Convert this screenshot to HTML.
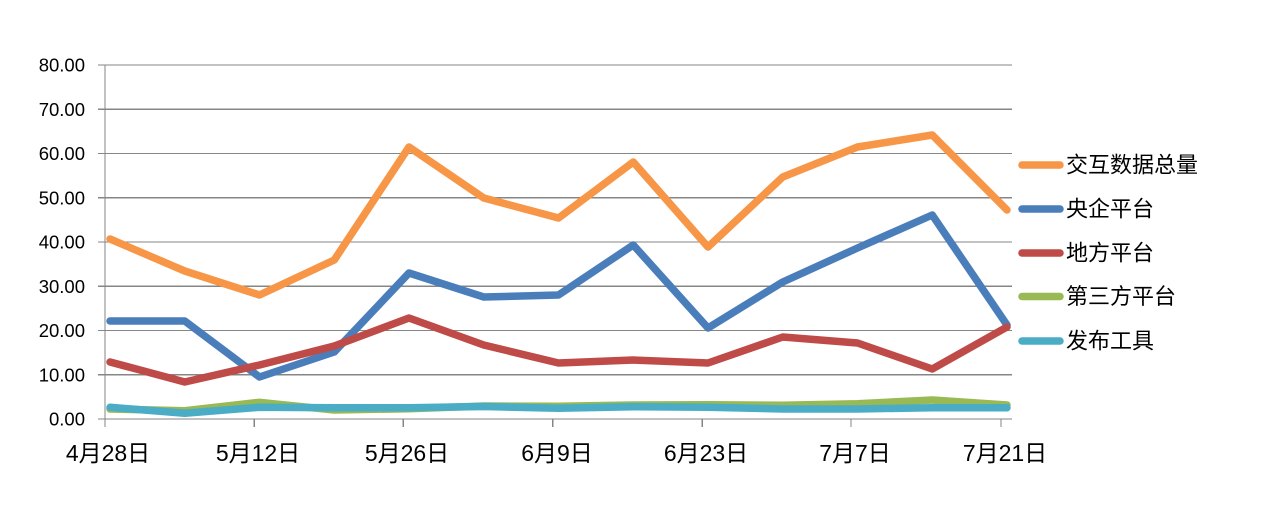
<!DOCTYPE html>
<html>
<head>
<meta charset="utf-8">
<style>
  html, body { margin:0; padding:0; background:#ffffff; }
  svg { display:block; }
  text { font-family: "Liberation Sans", "Noto Sans CJK SC", sans-serif; fill:#000; }
</style>
</head>
<body>
<svg width="1279" height="530" viewBox="0 0 1279 530" xmlns="http://www.w3.org/2000/svg">
  <rect width="1279" height="530" fill="#fff"/>
  <!-- gridlines -->
  <g stroke="#868686" stroke-width="1.2" shape-rendering="crispEdges">
    <line x1="98" y1="65" x2="1012" y2="65"/>
    <line x1="98" y1="109.25" x2="1012" y2="109.25"/>
    <line x1="98" y1="153.5" x2="1012" y2="153.5"/>
    <line x1="98" y1="197.75" x2="1012" y2="197.75"/>
    <line x1="98" y1="242" x2="1012" y2="242"/>
    <line x1="98" y1="286.25" x2="1012" y2="286.25"/>
    <line x1="98" y1="330.5" x2="1012" y2="330.5"/>
    <line x1="98" y1="374.75" x2="1012" y2="374.75"/>
    <line x1="98" y1="419" x2="1012" y2="419"/>
    <!-- y axis -->
    <line x1="105" y1="65" x2="105" y2="427"/>
    <!-- x ticks -->
    <line x1="254.3" y1="419" x2="254.3" y2="427"/>
    <line x1="403.3" y1="419" x2="403.3" y2="427"/>
    <line x1="552.7" y1="419" x2="552.7" y2="427"/>
    <line x1="702.3" y1="419" x2="702.3" y2="427"/>
    <line x1="851" y1="419" x2="851" y2="427"/>
    <line x1="1001" y1="419" x2="1001" y2="427"/>
  </g>
  <!-- y labels -->
  <g font-size="18.5" text-anchor="end">
    <text x="85" y="71.5">80.00</text>
    <text x="85" y="115.75">70.00</text>
    <text x="85" y="160">60.00</text>
    <text x="85" y="204.25">50.00</text>
    <text x="85" y="248.5">40.00</text>
    <text x="85" y="292.75">30.00</text>
    <text x="85" y="337">20.00</text>
    <text x="85" y="381.25">10.00</text>
    <text x="85" y="425.5">0.00</text>
  </g>
  <!-- x labels -->
  <g font-size="23" text-anchor="middle">
    <text x="108" y="461">4月28日</text>
    <text x="258" y="461">5月12日</text>
    <text x="407" y="461">5月26日</text>
    <text x="557" y="461">6月9日</text>
    <text x="706" y="461">6月23日</text>
    <text x="855" y="461">7月7日</text>
    <text x="1005" y="461">7月21日</text>
  </g>
  <!-- series -->
  <g fill="none" stroke-width="7.5" stroke-linejoin="round" stroke-linecap="round">
    <polyline stroke="#F79646" points="110,239 184.75,271 259.5,295 334.25,260 409,147 483.75,198 558.5,218 633.25,162 708,247 782.75,177 857.5,147 932.25,135 1007,210"/>
    <polyline stroke="#4A7EBB" points="110,321 184.75,321 259.5,377 334.25,352 409,273 483.75,297 558.5,295 633.25,245 708,328 782.75,282 857.5,248 932.25,215 1007,325"/>
    <polyline stroke="#BE4B48" points="110,362 184.75,382 259.5,365 334.25,346 409,318 483.75,345 558.5,363 633.25,360 708,363 782.75,337 857.5,343 932.25,369 1007,327"/>
    <polyline stroke="#98B954" points="110,409 184.75,410.7 259.5,402.3 334.25,410 409,408.7 483.75,406 558.5,406.3 633.25,405 708,404.7 782.75,405.3 857.5,403.7 932.25,400 1007,405"/>
    <polyline stroke="#4BACC6" points="110,407.3 184.75,413.3 259.5,407.3 334.25,407.7 409,407.7 483.75,406.5 558.5,408.3 633.25,406.7 708,407.3 782.75,409 857.5,409 932.25,407.7 1007,407.7"/>
  </g>
  <!-- legend -->
  <g stroke-width="7.5" stroke-linecap="round">
    <line x1="1022" y1="165" x2="1060" y2="165" stroke="#F79646"/>
    <line x1="1022" y1="209" x2="1060" y2="209" stroke="#4A7EBB"/>
    <line x1="1022" y1="253" x2="1060" y2="253" stroke="#BE4B48"/>
    <line x1="1022" y1="296.5" x2="1060" y2="296.5" stroke="#98B954"/>
    <line x1="1022" y1="341" x2="1060" y2="341" stroke="#4BACC6"/>
  </g>
  <g font-size="22">
    <text x="1066" y="172.5">交互数据总量</text>
    <text x="1066" y="216.5">央企平台</text>
    <text x="1066" y="260.5">地方平台</text>
    <text x="1066" y="304">第三方平台</text>
    <text x="1066" y="348.5">发布工具</text>
  </g>
</svg>
</body>
</html>
